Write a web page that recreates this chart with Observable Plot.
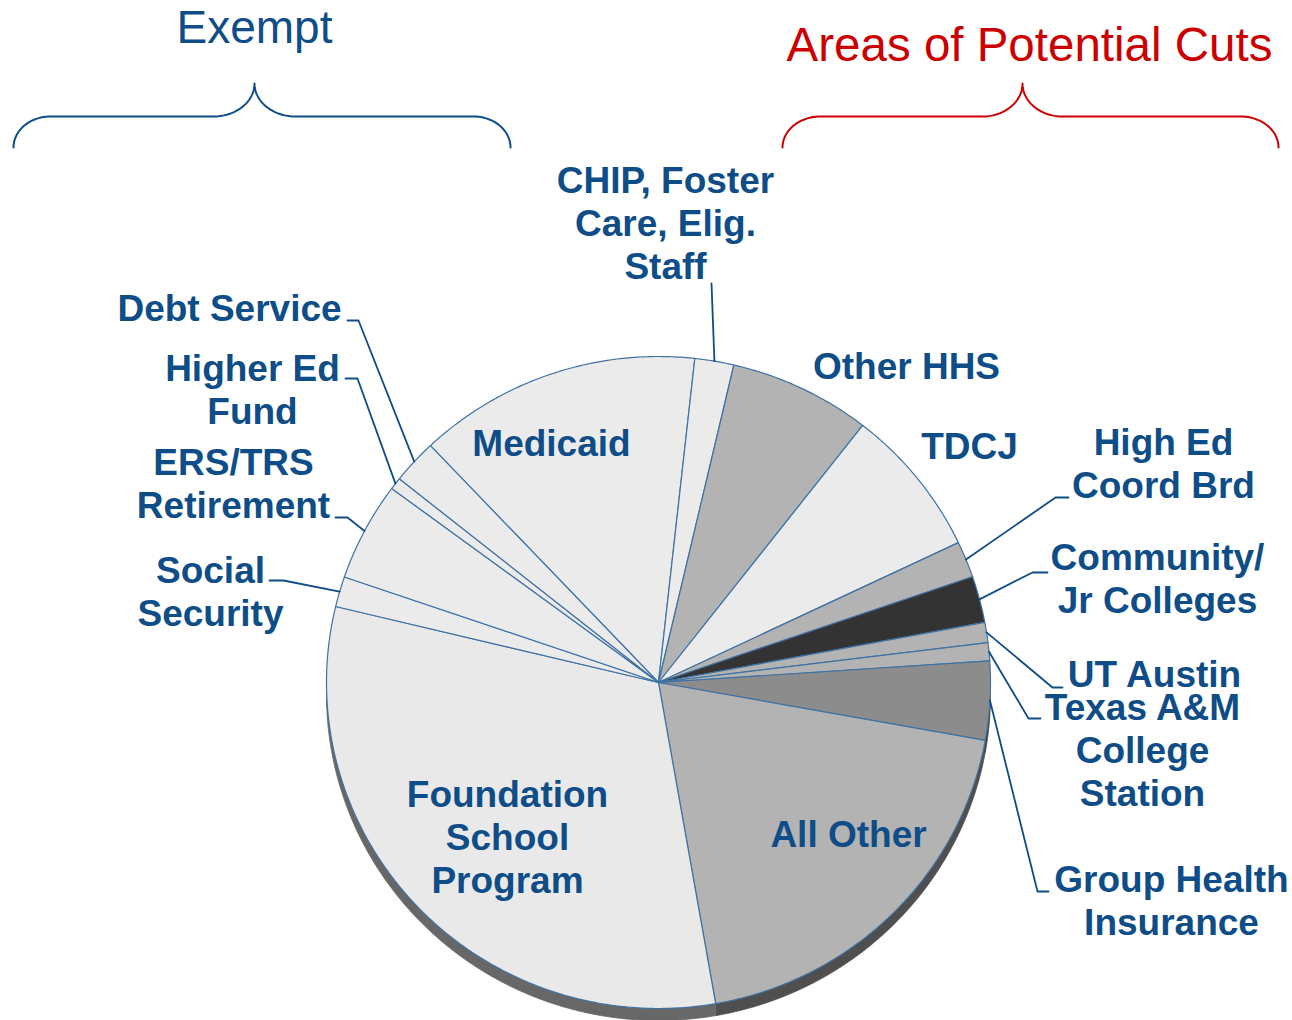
<!DOCTYPE html>
<html>
<head>
<meta charset="utf-8">
<script src="https://cdn.jsdelivr.net/npm/d3@7"></script>
<script src="https://cdn.jsdelivr.net/npm/@observablehq/plot@0.6"></script>
<style>
  html, body { margin: 0; padding: 0; background: #ffffff; }
  #chart svg { display: block; }
</style>
</head>
<body>
<div id="chart"></div>
<script>
// ---------------- DATA ----------------
const categories = [
  "Medicaid",
  "CHIP, Foster Care, Elig. Staff",
  "Other HHS",
  "TDCJ",
  "High Ed Coord Brd",
  "Community/Jr Colleges",
  "UT Austin",
  "Texas A&M College Station",
  "Group Health Insurance",
  "All Other",
  "Foundation School Program",
  "Social Security",
  "ERS/TRS Retirement",
  "Higher Ed Fund",
  "Debt Service"
];
// share of the budget, %
const shares = [13.8, 1.9, 6.9, 7.4, 1.8, 2.3, 1.0, 0.9, 3.9, 19.4, 31.5, 1.5, 4.9, 0.6, 2.2];
// label text with line breaks
const labelTexts = [
  "Medicaid",
  "CHIP, Foster\nCare, Elig.\nStaff",
  "Other HHS",
  "TDCJ",
  "High Ed\nCoord Brd",
  "Community/\nJr Colleges",
  "UT Austin",
  "Texas A&M\nCollege\nStation",
  "Group Health\nInsurance",
  "All Other",
  "Foundation\nSchool\nProgram",
  "Social\nSecurity",
  "ERS/TRS\nRetirement",
  "Higher Ed\nFund",
  "Debt Service"
];
const groupTitles = ["Exempt", "Areas of Potential Cuts"];

// ---------------- STYLE / LAYOUT ----------------
const sliceFills = ["#ebebeb","#ebebeb","#b3b3b3","#ebebeb","#b3b3b3","#333333","#b3b3b3","#b3b3b3",
                    "#8c8c8c","#b3b3b3","#e9e9e9","#ebebeb","#ebebeb","#ebebeb","#ebebeb"];
const W = 1292, H = 1020;
const CX = 658, CY = 682, RX = 332, RY = 326;   // pie ellipse in pixels
const START_DEG = -43.4;                        // where the first slice starts (clockwise from 12 o'clock)
const DEPTH = 12;                               // 3-D extrusion, px
const TEXT = "#0e4d87", EDGE = "#3f72a3", RED = "#cc0000";
const FONT = "Liberation Sans, Arial, Helvetica, sans-serif";

// pixel -> pie unit coordinates (layout helper only)
const ux = px => (px - CX) / RX;
const uy = py => (CY - py) / RY;

// label block centres (px) and leader elbows (px)
const labelLayout = {
  "Medicaid": [551, 442],
  "CHIP, Foster Care, Elig. Staff": [665, 222],
  "Other HHS": [906, 365],
  "TDCJ": [969, 445],
  "High Ed Coord Brd": [1163, 462],
  "Community/Jr Colleges": [1157, 577],
  "UT Austin": [1154, 673],
  "Texas A&M College Station": [1142, 749],
  "Group Health Insurance": [1171, 899],
  "All Other": [848, 833],
  "Foundation School Program": [507, 836],
  "Social Security": [210, 590],
  "ERS/TRS Retirement": [233, 482],
  "Higher Ed Fund": [252, 388],
  "Debt Service": [229, 307]
};
const leaderLayout = {
  "CHIP, Foster Care, Elig. Staff": [[711, 283]],
  "High Ed Coord Brd": [[1055, 497], [1068, 497]],
  "Community/Jr Colleges": [[1032, 572], [1047, 572]],
  "UT Austin": [[1052, 687], [1062, 687]],
  "Texas A&M College Station": [[1028, 718], [1040, 718]],
  "Group Health Insurance": [[1037, 891], [1048, 891]],
  "Social Security": [[283, 580], [269, 580]],
  "ERS/TRS Retirement": [[347, 517], [335, 517]],
  "Higher Ed Fund": [[357, 378], [345, 378]],
  "Debt Service": [[358, 320], [347, 320]]
};

// ---------------- GEOMETRY ----------------
const total = d3.sum(shares);
const start = START_DEG * Math.PI / 180;
let cum = 0;
const slices = categories.map((name, i) => {
  const a0 = start + cum / total * 2 * Math.PI;
  cum += shares[i];
  const a1 = start + cum / total * 2 * Math.PI;
  return {name, value: shares[i], a0, a1, fill: sliceFills[i]};
});

function arc(a0, a1, dy = 0) {
  const n = Math.max(2, Math.ceil(Math.abs(a1 - a0) / (Math.PI / 360)));
  const pts = [];
  for (let k = 0; k <= n; k++) {
    const a = a0 + (a1 - a0) * k / n;
    pts.push({x: Math.sin(a), y: Math.cos(a) - dy});
  }
  return pts;
}

// top faces
const slicePts = slices.flatMap(s => [
  {name: s.name, fill: s.fill, x: 0, y: 0},
  ...arc(s.a0, s.a1).map(p => ({...p, name: s.name, fill: s.fill})),
  {name: s.name, fill: s.fill, x: 0, y: 0}
]);

// side faces (visible lower half)
const dU = DEPTH / RY;
const sidePts = slices.flatMap(s => {
  const lo = Math.max(s.a0, Math.PI / 2), hi = Math.min(s.a1, 3 * Math.PI / 2);
  if (lo >= hi) return [];
  const side = d3.color(s.fill).darker(2.3).formatHex();
  return [...arc(lo, hi), ...arc(hi, lo, dU)].map(p => ({...p, name: s.name, fill: side}));
});

// labels
const labels = slices.map((s, i) => ({
  text: labelTexts[i],
  x: ux(labelLayout[s.name][0]),
  y: uy(labelLayout[s.name][1])
}));

// leaders: start on the rim at the slice's mid angle
const leaders = slices.filter(s => leaderLayout[s.name]).flatMap(s => {
  const m = (s.a0 + s.a1) / 2;
  return [{name: s.name, x: Math.sin(m), y: Math.cos(m)},
          ...leaderLayout[s.name].map(([px, py]) => ({name: s.name, x: ux(px), y: uy(py)}))];
});

// braces
function brace(id, x0, x1, xm, yPeak, yLine, yEnd, rc, rp) {
  const pts = [];
  const q = 24;
  const h1 = yEnd - yLine, h2 = yLine - yPeak;
  for (let k = 0; k <= q; k++) { const f = k / q * Math.PI / 2; pts.push([x0 + rc - rc * Math.cos(f), yEnd - h1 * Math.sin(f)]); }
  for (let k = 0; k <= q; k++) { const f = k / q * Math.PI / 2; pts.push([xm - rp + rp * Math.sin(f), yPeak + h2 * Math.cos(f)]); }
  for (let k = q; k >= 0; k--) { const f = k / q * Math.PI / 2; pts.push([xm + rp - rp * Math.sin(f), yPeak + h2 * Math.cos(f)]); }
  for (let k = q; k >= 0; k--) { const f = k / q * Math.PI / 2; pts.push([x1 - rc + rc * Math.cos(f), yEnd - h1 * Math.sin(f)]); }
  return pts.map(([px, py]) => ({id, x: ux(px), y: uy(py)}));
}
const braceBlue = brace("exempt", 13, 510, 254, 83, 116, 147, 37, 41);
const braceRed = brace("cuts", 782, 1278, 1022, 83, 116, 147, 38, 40);

const titles = [
  {text: groupTitles[0], x: ux(254), y: uy(28)},
  {text: groupTitles[1], x: ux(1029), y: uy(45)}
];

// ---------------- PLOT ----------------
const chart = Plot.plot({
  width: W,
  height: H,
  margin: 0,
  style: {background: "#ffffff", overflow: "visible"},
  x: {domain: [ux(0), ux(W)], range: [0, W], axis: null},
  y: {domain: [uy(H), uy(0)], range: [H, 0], axis: null},
  marks: [
    Plot.line(sidePts, {x: "x", y: "y", z: "name", fill: "fill", stroke: "fill", strokeWidth: 0.8}),
    Plot.line(slicePts, {x: "x", y: "y", z: "name", fill: "fill", stroke: EDGE, strokeWidth: 1.2, strokeLinejoin: "round"}),
    Plot.line(leaders, {x: "x", y: "y", z: "name", stroke: TEXT, strokeWidth: 1.8}),
    Plot.line(braceBlue, {x: "x", y: "y", stroke: TEXT, strokeWidth: 2}),
    Plot.line(braceRed, {x: "x", y: "y", stroke: RED, strokeWidth: 2}),
    Plot.text(labels, {x: "x", y: "y", text: "text", fill: TEXT, fontSize: 37, fontWeight: "bold",
                       fontFamily: FONT, lineHeight: 1.16, textAnchor: "middle"}),
    Plot.text(titles.slice(0, 1), {x: "x", y: "y", text: "text", fill: TEXT, fontSize: 46, fontFamily: FONT, textAnchor: "middle"}),
    Plot.text(titles.slice(1), {x: "x", y: "y", text: "text", fill: RED, fontSize: 47.5, fontFamily: FONT, textAnchor: "middle"})
  ]
});
document.getElementById("chart").appendChild(chart);
</script>
</body>
</html>
